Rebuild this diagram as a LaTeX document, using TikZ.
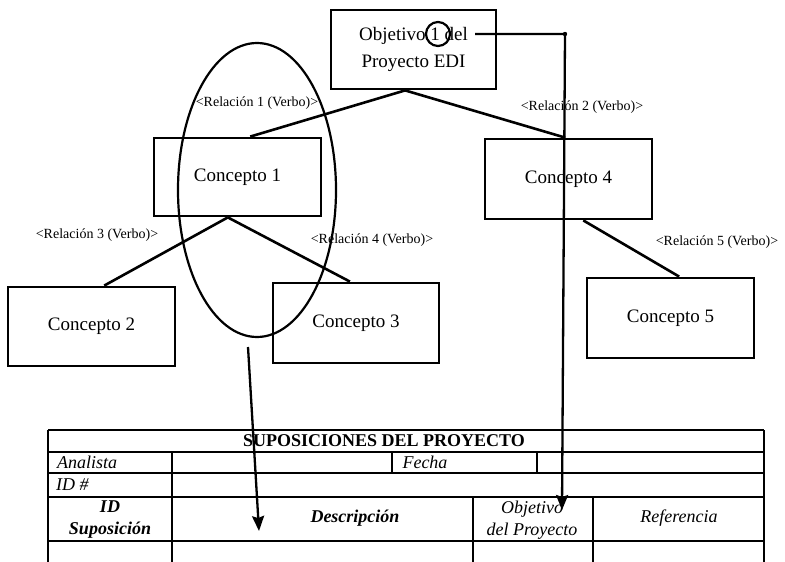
\documentclass[tikz,border=0pt]{standalone}
\usepackage{fontspec}
\setmainfont{Liberation Serif}
\usetikzlibrary{shapes.geometric,arrows.meta,calc}
\begin{document}
\begin{tikzpicture}[x=1pt,y=-1pt,
  conceptbox/.style={draw, line width=2.8pt, inner sep=0pt, align=center,
    font=\fontsize{19}{27}\selectfont},
  link/.style={line width=2.6pt},
  pointer/.style={line width=2.3pt, -{Stealth[length=15pt,width=12pt,inset=2pt]}},
  rel/.style={inner sep=0pt, font=\fontsize{14}{16}\selectfont},
  gridline/.style={line width=1.4pt},
  cell/.style={inner sep=0pt, align=center, font=\fontsize{18}{22}\selectfont\itshape},
  boldcell/.style={cell, font=\fontsize{18}{22}\selectfont\bfseries\itshape}]
\useasboundingbox (0,0) rectangle (785,562);

% concept boxes
\node[conceptbox, minimum width=165pt, minimum height=79pt] (obj) at (413.5,49.5)
  {Objetivo 1 del\\Proyecto EDI};
\node[conceptbox, minimum width=167pt, minimum height=78pt] (c1) at (237.5,177) {Concepto 1};
\node[conceptbox, minimum width=167pt, minimum height=80pt] (c4) at (568.5,179) {Concepto 4};
\node[conceptbox, minimum width=167pt, minimum height=79pt] (c2) at (91.5,326.5) {Concepto 2};
\node[conceptbox, minimum width=166pt, minimum height=80pt] (c3) at (356,323) {Concepto 3};
\node[conceptbox, minimum width=167pt, minimum height=80pt] (c5) at (670.5,318) {Concepto 5};

% connectors
\draw[link] ($(obj.south west)!0.45!(obj.south east)$) -- ($(c1.north west)!0.575!(c1.north east)$);
\draw[link] ($(obj.south west)!0.45!(obj.south east)$) -- ($(c4.north west)!0.48!(c4.north east)$);
\draw[link] ($(c1.south west)!0.443!(c1.south east)$) -- ($(c2.north west)!0.575!(c2.north east)$);
\draw[link] ($(c1.south west)!0.443!(c1.south east)$) -- ($(c3.north west)!0.464!(c3.north east)$);
\draw[link] ($(c4.south west)!0.587!(c4.south east)$) -- ($(c5.north west)!0.551!(c5.north east)$);

% relation labels
\node[rel] (r1) at (257,103) {<Relación 1 (Verbo)>};
\node[rel] (r2) at (582,107) {<Relación 2 (Verbo)>};
\node[rel] (r3) at (97,235) {<Relación 3 (Verbo)>};
\node[rel] (r4) at (372,240) {<Relación 4 (Verbo)>};
\node[rel] (r5) at (717,242) {<Relación 5 (Verbo)>};

% grouping ellipse and marker circle
\node[draw, ellipse, line width=2.2pt, inner sep=0pt, minimum width=158pt, minimum height=294pt] (grp) at (257,190) {};
\node[draw, circle, line width=2.2pt, inner sep=0pt, minimum size=24pt] (one) at (438,34) {};

% pointers into the table
\coordinate (objStart) at (475,34);
\coordinate (objCorner) at (565,34);
\coordinate (objTip) at (562,510);
\draw[pointer, line join=round] (objStart) -- (objCorner) -- (objTip);
\fill (objCorner) circle (2.2pt);
\coordinate (grpStart) at (248,347);
\coordinate (descTip) at (259,531);
\draw[pointer] (grpStart) -- (descTip);

% table grid
\draw[gridline] (48,430) -- (764,430);
\draw[gridline] (48,452) -- (764,452);
\draw[gridline] (48,473) -- (764,473);
\draw[gridline] (48,497) -- (764,497);
\draw[gridline] (48,541) -- (764,541);
\draw[gridline] (48,430) -- (48,562);
\draw[gridline] (764,430) -- (764,562);
\draw[gridline] (172,452) -- (172,562);
\draw[gridline] (392,452) -- (392,473);
\draw[gridline] (537,452) -- (537,473);
\draw[gridline] (473,497) -- (473,562);
\draw[gridline] (593,497) -- (593,562);

% table texts
\node[inner sep=0pt, font=\fontsize{18}{22}\selectfont\bfseries] (title) at (384,441) {SUPOSICIONES DEL PROYECTO};
\node[cell, anchor=west] (analista) at (57,462) {Analista};
\node[cell] (fecha) at (425,462) {Fecha};
\node[cell, anchor=west] (idn) at (56,485) {ID \#};
\node[boldcell] (idsup) at (110,520) {ID\\Suposición};
\node[boldcell] (desc) at (355,518) {Descripción};
\node[cell] (objcol) at (532,520) {Objetivo\\del Proyecto};
\node[cell] (ref) at (679,518) {Referencia};
\end{tikzpicture}
\end{document}
